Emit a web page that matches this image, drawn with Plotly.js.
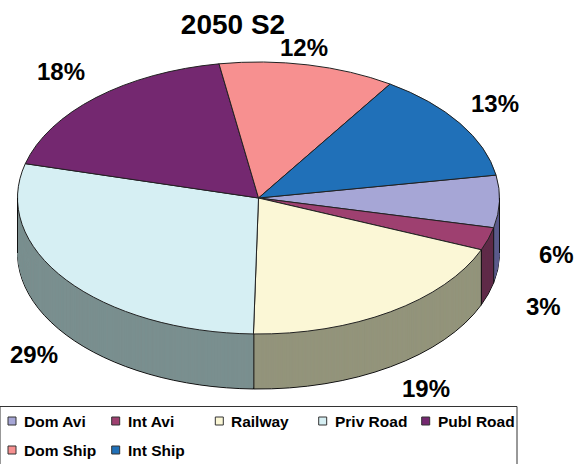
<!DOCTYPE html>
<html>
<head>
<meta charset="utf-8">
<script src="https://cdn.plot.ly/plotly-3.0.1.min.js"></script>
<style>html,body{margin:0;padding:0;background:#fff;overflow:hidden}#chart{width:582px;height:464px}</style>
</head>
<body>
<div id="chart"></div>
<script>
var categories = ['Dom Avi','Int Avi','Railway','Priv Road','Publ Road','Dom Ship','Int Ship'];
var shares = [6.2,2.7,19.1,28.7,18.3,11.8,13.1];
var shareLabels = ['6%','3%','19%','29%','18%','12%','13%'];
var topColors = ['#a6a6d6','#9e4070','#fbf7d6','#d6eff3','#742870','#f79090','#2070b8'];
var wallColors = ['#5c5c8c','#5f2a48','#93947b','#7a8f8f','#45184a','#935656','#134470'];
var labelX = [556,543,426,34,61,304,495];
var labelY = [254,306,388,354,72,48,103];
var legendCols = [12,115.7,219.3,322.7,425.7,12,115.7];
var legendRows = [421,421,421,421,421,450,450];

var W = 582, H = 464;
var cxS = 258.5, cyS = 198, rxS = 241, ryS = 136, depthS = 55;
var D = 360, cxL = 291, topL = 10;
var sx = 2*rxS/D, sy = 2*ryS/D;
var tx = cxS - sx*cxL, ty = cyS - sy*(topL + D/2);
var startDeg = 80.3;
var px = function(v){return v/W;}, py = function(v){return 1 - v/H;};

function pieTrace(offsetL, colors, lineW, lineC){
  return {
    type:'pie', values:shares, labels:categories, sort:false, direction:'clockwise',
    rotation:startDeg, textinfo:'none', hoverinfo:'skip', showlegend:false,
    marker:{colors:colors, line:{width:lineW, color:lineC}},
    domain:{x:[(cxL-D/2)/W,(cxL+D/2)/W], y:[1-(topL+offsetL+D)/H, 1-(topL+offsetL)/H]}
  };
}
var depthL = depthS/sy, steps = 55, traces = [];
for (var i = steps; i >= 1; i--) {
  traces.push(pieTrace(depthL*i/steps, wallColors, i === steps ? 1 : 0, '#111'));
}
traces.push(pieTrace(0, topColors, 1, '#222'));

var shapes = [], annotations = [];
var line = function(x0,y0,x1,y1){
  shapes.push({type:'line',xref:'paper',yref:'paper',x0:px(x0),y0:py(y0),x1:px(x1),y1:py(y1),line:{color:'#111',width:1},layer:'above'});
};
// vertical wall edges at the front-facing slice boundaries and the silhouette
var cum = 0;
shares.forEach(function(v){
  cum += v;
  var a = (startDeg + cum*3.6)*Math.PI/180;
  var ex = cxS + rxS*Math.sin(a), ey = cyS - ryS*Math.cos(a);
  if (Math.cos(a) < 0) line(ex,ey,ex,ey+depthS);
});
line(cxS-rxS,cyS,cxS-rxS,cyS+depthS);
line(cxS+rxS,cyS,cxS+rxS,cyS+depthS);

// legend box (bottom edge runs off the page, as in the reference)
shapes.push({type:'rect',xref:'paper',yref:'paper',x0:px(0),x1:px(517),y0:py(406.5),y1:py(470),line:{color:'#333',width:1},fillcolor:'#fff',layer:'above'});
categories.forEach(function(c,i){
  var x = legendCols[i], y = legendRows[i];
  shapes.push({type:'rect',xref:'paper',yref:'paper',x0:px(x-4),x1:px(x+4),y0:py(y+4),y1:py(y-4),line:{color:'#333',width:1},fillcolor:topColors[i],layer:'above'});
  annotations.push({xref:'paper',yref:'paper',x:px(x+10),y:py(y),text:c,showarrow:false,xanchor:'left',yanchor:'middle',
    font:{family:'Liberation Sans, Arial, sans-serif',size:15.5,color:'#000',weight:700}});
  annotations.push({xref:'paper',yref:'paper',x:px(labelX[i]),y:py(labelY[i]),text:shareLabels[i],showarrow:false,xanchor:'center',yanchor:'middle',
    font:{family:'Liberation Sans, Arial, sans-serif',size:24,color:'#000',weight:700}});
});

var layout = {
  width:W, height:H, margin:{l:0,r:0,t:0,b:0}, showlegend:false,
  paper_bgcolor:'#fff', plot_bgcolor:'#fff',
  title:{text:'<b>2050 S2</b>', x:233/W, xanchor:'center', y:1-24/H, yanchor:'middle',
    font:{family:'Liberation Sans, Arial, sans-serif',size:28,color:'#000'}},
  shapes:shapes, annotations:annotations
};
Plotly.newPlot('chart', traces, layout, {staticPlot:true, displayModeBar:false}).then(function(gd){
  var g = gd.querySelector('.pielayer');
  g.setAttribute('transform','matrix('+sx+' 0 0 '+sy+' '+tx+' '+ty+')');
  gd.querySelectorAll('.pielayer path').forEach(function(p){ p.style.vectorEffect = 'non-scaling-stroke'; });
});
</script>
</body>
</html>
